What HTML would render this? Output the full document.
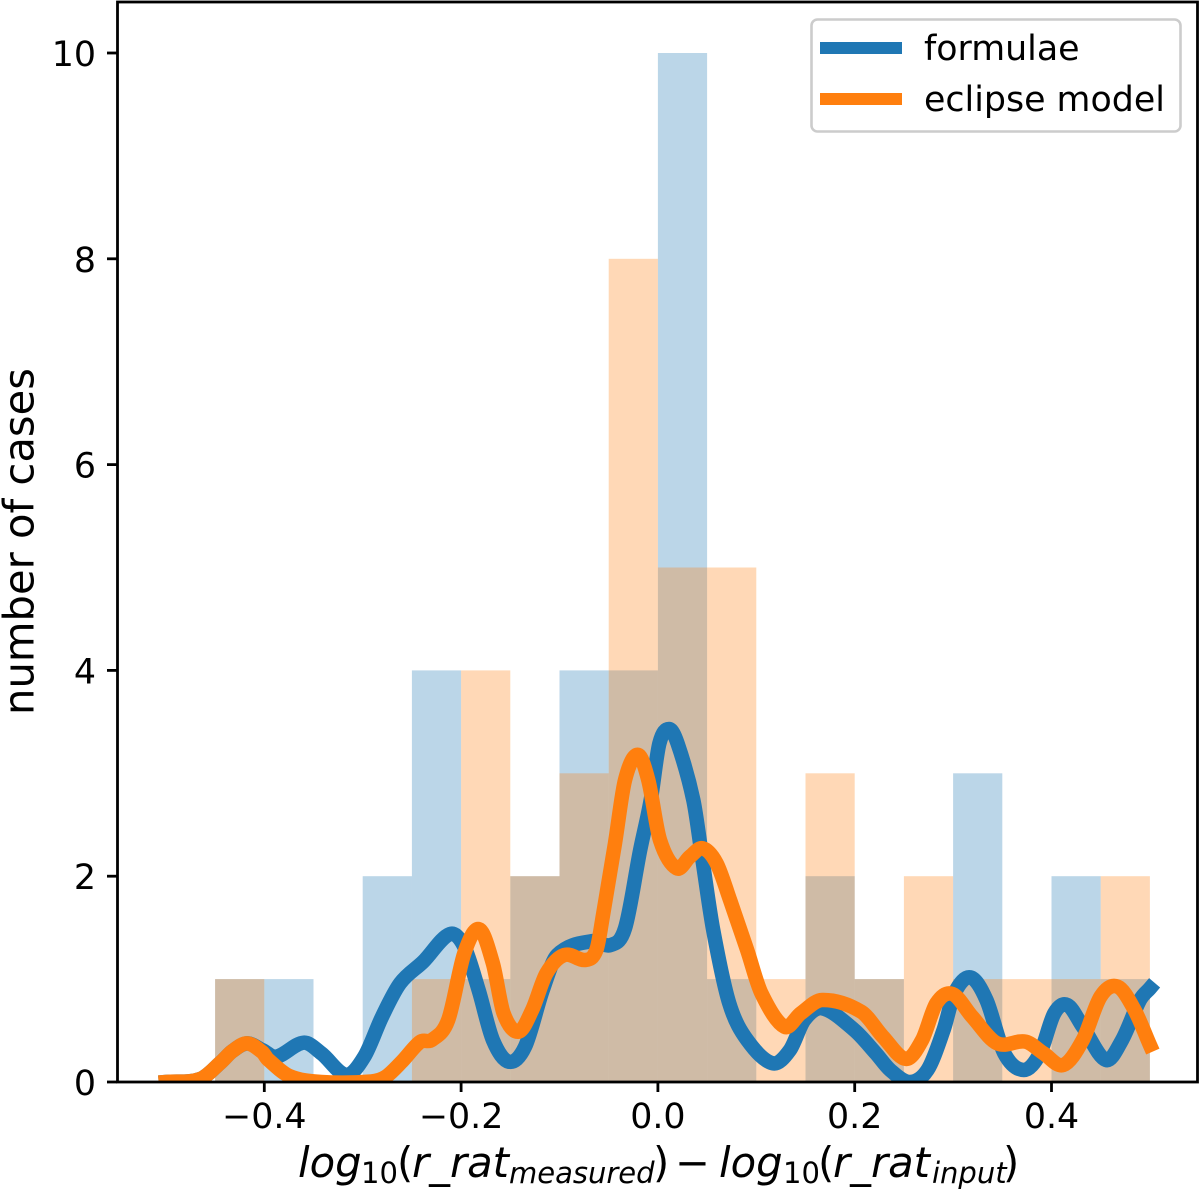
<!DOCTYPE html>
<html lang="en">
<head>
<meta charset="utf-8">
<title>Histogram of log ratio residuals</title>
<style>
html,body{margin:0;padding:0;background:#fff;width:1200px;height:1193px;overflow:hidden}
svg{display:block;font-family:"DejaVu Sans","Liberation Sans",sans-serif;fill:#000}
</style>
</head>
<body>
<svg id="chart" xmlns="http://www.w3.org/2000/svg" width="1200" height="1193" viewBox="0 0 1200 1193">
  <defs><clipPath id="plot-clip"><rect x="117.5" y="2" width="1080" height="1080"/></clipPath></defs>
  <g id="bars"></g>
  <g id="lines" clip-path="url(#plot-clip)"></g>
  <rect x="117.5" y="2" width="1080" height="1080" fill="none" stroke="#000" stroke-width="2.8"/>
  <g id="ticks"></g>
  <text transform="translate(33.5,541.5) rotate(-90)" text-anchor="middle" font-size="41.7">number of cases</text>
  <text y="1177" font-size="41.7"><tspan x="298" font-style="italic">log</tspan><tspan x="361" dy="6" font-size="29">10</tspan><tspan x="397" dy="-6">(</tspan><tspan x="412" font-style="italic">r_rat</tspan><tspan x="509" dy="6" font-size="29" font-style="italic">measured</tspan><tspan x="653" dy="-6">)</tspan><tspan x="675">−</tspan><tspan x="719" font-style="italic">log</tspan><tspan x="783" dy="6" font-size="29">10</tspan><tspan x="818" dy="-6">(</tspan><tspan x="833" font-style="italic">r_rat</tspan><tspan x="932" dy="6" font-size="29" font-style="italic">input</tspan><tspan x="1003" dy="-6">)</tspan></text>
  <g>
    <rect x="811.5" y="19.5" width="369" height="112" rx="6" fill="#fff" fill-opacity="0.8" stroke="#ccc" stroke-width="2.6"/>
    <line x1="820" x2="902" y1="48" y2="48" stroke="#1f77b4" stroke-width="12"/>
    <text x="924" y="60" font-size="34.8">formulae</text>
    <line x1="820" x2="902" y1="99" y2="99" stroke="#ff7f0e" stroke-width="12"/>
    <text x="924" y="111" font-size="34.8">eclipse model</text>
  </g>
</svg>
<script>
// Histogram data
const binStart = [-0.5,-0.45,-0.4,-0.35,-0.3,-0.25,-0.2,-0.15,-0.1,-0.05,0,0.05,0.1,0.15,0.2,0.25,0.3,0.35,0.4,0.45];
const binWidth = 0.05;
const formulaeCounts = [0,1,1,0,2,4,1,2,4,4,10,1,0,2,1,0,3,0,2,1];
const eclipseCounts = [0,1,0,0,0,1,4,2,3,8,5,5,1,3,1,2,1,1,1,2];
// Curve data
const formulaeX = [-0.5,-0.465,-0.4436,-0.4325,-0.4175,-0.402,-0.388,-0.36,-0.342,-0.3166,-0.2984,-0.2803,-0.262,-0.2385,-0.2113,-0.1968,-0.1822,-0.1677,-0.1514,-0.135,-0.117,-0.1024,-0.066,-0.048,-0.0334,-0.018,-0.0073,0.0015,0.0113,0.02,0.036,0.0453,0.0562,0.0725,0.0907,0.1168,0.1342,0.1488,0.1669,0.1996,0.2215,0.236,0.2558,0.274,0.2903,0.3013,0.3176,0.3339,0.352,0.372,0.3883,0.4028,0.4162,0.4318,0.4554,0.4717,0.4899,0.5];
const formulaeY = [0,0.03,0.197,0.3,0.375,0.31,0.245,0.382,0.279,0.07,0.246,0.635,0.959,1.169,1.438,1.315,0.894,0.408,0.197,0.343,0.894,1.234,1.37,1.331,1.494,2.255,2.74,3.29,3.43,3.29,2.74,2.157,1.477,0.765,0.408,0.182,0.311,0.603,0.716,0.505,0.279,0.117,0,0.117,0.505,0.862,1.017,0.797,0.279,0.117,0.279,0.667,0.748,0.537,0.214,0.408,0.797,0.91];
const eclipseX = [-0.5,-0.465,-0.4436,-0.4325,-0.4175,-0.402,-0.3965,-0.3745,-0.342,-0.2912,-0.2766,-0.26,-0.2416,-0.2295,-0.2131,-0.1968,-0.1815,-0.1677,-0.1568,-0.1416,-0.1278,-0.1133,-0.0951,-0.0734,-0.0625,-0.0555,-0.0436,-0.0334,-0.0205,-0.0098,0.0021,0.0191,0.0326,0.0455,0.0597,0.0733,0.0907,0.1052,0.1287,0.1451,0.1669,0.2068,0.2287,0.2522,0.2685,0.283,0.2994,0.3193,0.3447,0.3738,0.3919,0.4119,0.4318,0.4499,0.4674,0.4844,0.5];
const eclipseY = [0,0.03,0.197,0.3,0.375,0.29,0.222,0.058,0,0.005,0.05,0.2,0.39,0.41,0.603,1.25,1.484,1.153,0.667,0.489,0.7,1.056,1.234,1.186,1.283,1.639,2.32,2.935,3.18,2.935,2.352,2.077,2.19,2.271,2.125,1.769,1.283,0.862,0.537,0.667,0.797,0.682,0.44,0.224,0.408,0.765,0.855,0.635,0.376,0.392,0.279,0.165,0.408,0.831,0.926,0.7,0.36];
// Tick labels
const xTicks = [-0.4,-0.2,0,0.2,0.4];
const xTickLabels = ["−0.4","−0.2","0.0","0.2","0.4"];
const yTicks = [0,2,4,6,8,10];
const yTickLabels = ["0","2","4","6","8","10"];

const NS = "http://www.w3.org/2000/svg";
function xScale(v){ return 657.9 + 984 * v; }
function yScale(v){ return 1082 - 102.9 * v; }

function make(tag, attrs, parent){
  const el = document.createElementNS(NS, tag);
  for (const k in attrs) el.setAttribute(k, attrs[k]);
  parent.appendChild(el);
  return el;
}
function drawBars(counts, color, name){
  const g = document.getElementById("bars");
  counts.forEach(function(c, i){
    if (!c) return;
    const x0 = xScale(binStart[i]);
    const x1 = xScale(binStart[i] + binWidth);
    const y1 = yScale(c);
    const el = make("rect", {x:x0, y:y1, width:x1 - x0, height:yScale(0) - y1, fill:color, "fill-opacity":0.3}, g);
    
    
  });
}
function curvePath(xs, ys){
  const p = xs.map(function(x, i){ return [xScale(x), yScale(ys[i])]; });
  let d = "M" + p[0][0] + " " + p[0][1];
  for (let i = 0; i < p.length - 1; i++){
    const a = p[Math.max(0, i - 1)], b = p[i], c = p[i + 1], e = p[Math.min(p.length - 1, i + 2)];
    const dx = c[0] - b[0];
    const m1 = (c[1] - a[1]) / ((c[0] - a[0]) || 1);
    const m2 = (e[1] - b[1]) / ((e[0] - b[0]) || 1);
    d += " C" + (b[0] + dx / 3) + " " + (b[1] + m1 * dx / 3) + " " + (c[0] - dx / 3) + " " + (c[1] - m2 * dx / 3) + " " + c[0] + " " + c[1];
  }
  return d;
}
function drawCurve(xs, ys, color, name){
  const el = make("path", {d:curvePath(xs, ys), fill:"none", stroke:color, "stroke-width":14.5, "stroke-linecap":"square", "stroke-linejoin":"round"}, document.getElementById("lines"));
  
  
}
function drawTicks(){
  const g = document.getElementById("ticks");
  xTicks.forEach(function(v, i){
    const x = xScale(v);
    const t = make("line", {x1:x, x2:x, y1:1082, y2:1092, stroke:"#000", "stroke-width":2.8}, g);
    
    
    const l = make("text", {x:x, y:1128, "text-anchor":"middle", "font-size":34.8}, g);
    l.textContent = xTickLabels[i];
    
    
  });
  yTicks.forEach(function(v, i){
    const y = yScale(v);
    const t = make("line", {x1:107, x2:117, y1:y, y2:y, stroke:"#000", "stroke-width":2.8}, g);
    
    
    const l = make("text", {x:96, y:y + 13, "text-anchor":"end", "font-size":34.8}, g);
    l.textContent = yTickLabels[i];
    
    
  });
}
drawBars(formulaeCounts, "#1f77b4", "formulae-bar");
drawBars(eclipseCounts, "#ff7f0e", "eclipse-model-bar");
drawCurve(formulaeX, formulaeY, "#1f77b4", "formulae-curve");
drawCurve(eclipseX, eclipseY, "#ff7f0e", "eclipse-model-curve");
drawTicks();
</script>
</body>
</html>
